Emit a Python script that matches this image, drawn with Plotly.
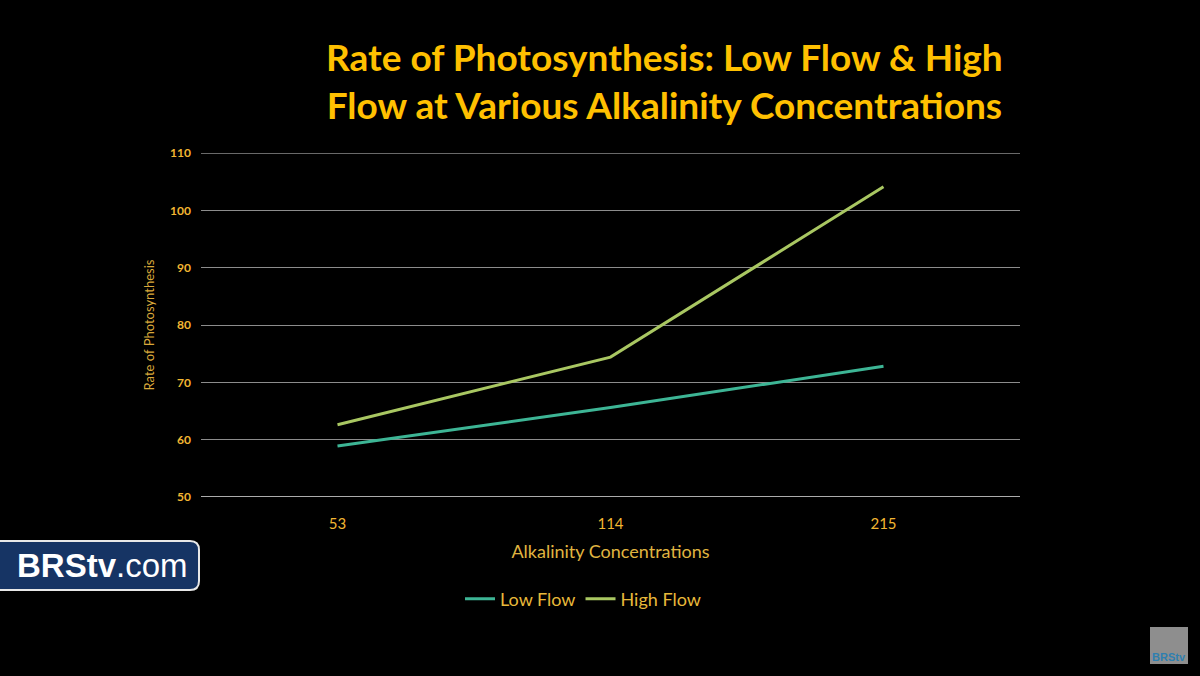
import plotly.graph_objects as go

categories = ["53", "114", "215"]
low_flow = [58.9, 65.6, 72.8]
high_flow = [62.6, 74.4, 104.1]
y_ticks = [50, 60, 70, 80, 90, 100, 110]

W, H = 1200, 676
L, R, T, B = 201, 180, 153, 179
PW, PH = W - L - R, H - T - B


def px(x):
    return (x - L) / PW


def py(y):
    return (H - B - y) / PH


fig = go.Figure()
fig.add_trace(go.Scatter(x=categories, y=low_flow, mode="lines", name="Low Flow",
                         line=dict(color="#3DB595", width=3)))
fig.add_trace(go.Scatter(x=categories, y=high_flow, mode="lines", name="High Flow",
                         line=dict(color="#A9C762", width=3)))

gold = "#F2B632"
fig.update_layout(
    width=W, height=H,
    paper_bgcolor="black", plot_bgcolor="black",
    margin=dict(l=L, r=R, t=T, b=B),
    font=dict(family="Lato", color=gold),
    showlegend=True,
    legend=dict(orientation="h", x=px(583), xanchor="center", y=py(599), yanchor="middle",
                xref="paper", yref="paper",
                font=dict(size=18, color="#E8B93A", family="Lato"),
                bgcolor="rgba(0,0,0,0)", itemwidth=30),
)
fig.update_xaxes(
    type="category", range=[-0.5, 2.5],
    showgrid=False, zeroline=False, showline=False,
    tickfont=dict(size=15, color=gold, family="Lato"),
    ticks="", ticklabelstandoff=16,
    title=dict(text="Alkalinity Concentrations", font=dict(size=18, color="#E0B540", family="Lato"),
               standoff=14),
)
fig.update_yaxes(
    range=[50, 110], tickvals=y_ticks,
    showgrid=True, gridcolor="#8C8C8C", gridwidth=1.3,
    zeroline=False, showline=False,
    tickfont=dict(size=12, color=gold, family="Lato", weight="bold"),
    ticks="", ticklabelstandoff=9,
    title=dict(text="Rate of Photosynthesis", font=dict(size=13, color="#D9A83A", family="Lato"),
               standoff=12),
)
# top gridline at 110 and brighter baseline at 50
fig.add_shape(type="line", xref="paper", yref="y", x0=0, x1=1, y0=110, y1=110,
              line=dict(color="#8C8C8C", width=1.3), layer="below")
fig.add_shape(type="line", xref="paper", yref="y", x0=0, x1=1, y0=50, y1=50,
              line=dict(color="#E6E6E6", width=1.5), layer="below")

fig.add_annotation(
    text="Rate of Photosynthesis: Low Flow & High<br>Flow at Various Alkalinity Concentrations",
    xref="paper", yref="paper",
    x=px(664), y=py(80),
    xanchor="center", yanchor="middle", showarrow=False, align="center",
    font=dict(size=37, color="#FFC000", family="Lato", weight="bold"),
)

# BRStv.com badge (rounded rect)
x0, x1, y0, y1, r = -10, 199, 541, 590, 9
path = (f"M {x0},{y0} L {x1 - r},{y0} Q {x1},{y0} {x1},{y0 + r} "
        f"L {x1},{y1 - r} Q {x1},{y1} {x1 - r},{y1} L {x0},{y1} Z")
fig.add_shape(type="path", xref="x domain", yref="y domain", path=path,
              fillcolor="#163464", line=dict(color="#E8E8E8", width=2), layer="above")
fig.data  # noqa
fig.layout.shapes[-1].update(xref="paper", yref="paper",
                             path=" ".join(
                                 tok if tok in ("M", "L", "Q", "Z") else
                                 f"{px(float(tok.split(',')[0]))},{py(float(tok.split(',')[1]))}"
                                 for tok in path.split()))
fig.add_annotation(text="<b>BRStv</b>.com", xref="paper", yref="paper",
                   x=px(102), y=py(565),
                   xanchor="center", yanchor="middle", showarrow=False,
                   font=dict(size=33, color="white", family="Liberation Sans"))
# small corner logo
fig.add_shape(type="rect", xref="paper", yref="paper",
              x0=px(1150), x1=px(1188), y0=py(664), y1=py(627),
              fillcolor="#8E8E8E", line=dict(width=0), layer="above")
fig.add_annotation(text="<b>BRStv</b>", xref="paper", yref="paper",
                   x=px(1169), y=py(657),
                   xanchor="center", yanchor="middle", showarrow=False,
                   font=dict(size=11, color="#2E7FB0", family="Liberation Sans"))

fig.write_html("out.html")
